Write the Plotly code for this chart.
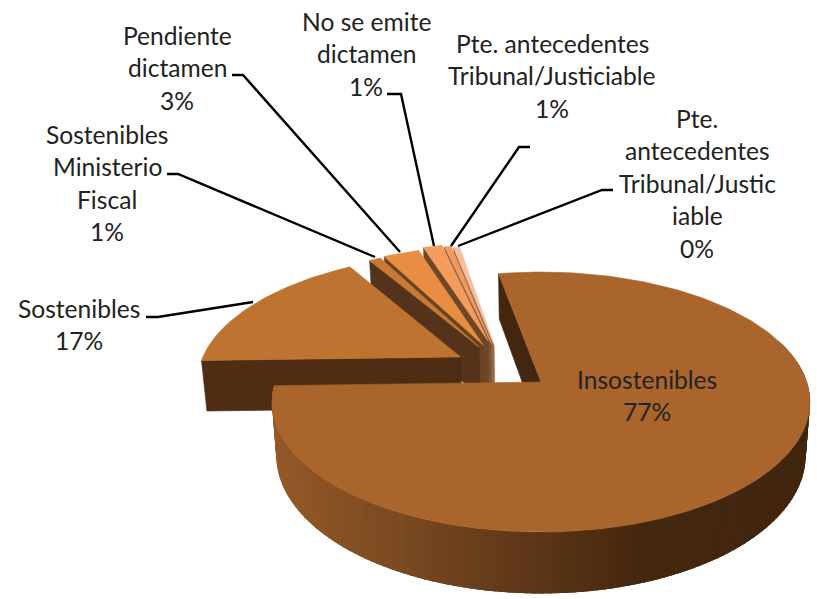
import math
import plotly.graph_objects as go

# ---- data ----
categories = ["Insostenibles", "Sostenibles", "Sostenibles Ministerio Fiscal", "Pendiente dictamen",
              "No se emite dictamen", "Pte. antecedentes Tribunal/Justiciable",
              "Pte. antecedentes Tribunal/Justiciable"]
values = [77.45, 16.67, 0.85, 2.64, 1.39, 0.50, 0.45]
label_lines = [
    ["Insostenibles"],
    ["Sostenibles"],
    ["Sostenibles", "Ministerio", "Fiscal"],
    ["Pendiente", "dictamen"],
    ["No se emite", "dictamen"],
    ["Pte. antecedentes", "Tribunal/Justiciable"],
    ["Pte.", "antecedentes", "Tribunal/Justic", "iable"],
]

# ---- styles ----
top_colors = ["#A9652B", "#BF7330", "#C87A35", "#E88D42", "#F49C5E", "#EE9A62", "#F5BFA0"]
wall_colors = ["#432610", "#4E2D14", "#55331A", "#6A4320", "#6E4726", "#7E5532", "#9A6A42"]
explode_u = [0.0, -0.312, -0.243, -0.228, -0.209, -0.197, -0.185]
explode_v = [0.0, -0.203, -0.288, -0.306, -0.340, -0.323, -0.306]
radius = [1.0, 1.0, 0.98, 0.98, 0.98, 0.98, 0.98]
label_x = [647, 79, 107, 177, 366, 552, 697]
label_y = [379, 308, 134, 35, 21, 43, 118]
leaders = [
    None,
    [(146, 317), (158, 317), (253, 302)],
    [(167, 174), (178, 174), (375, 257)],
    [(232, 75), (243, 75), (400, 252)],
    [(387, 94), (401, 94), (434, 246)],
    [(530, 147), (519, 147), (451, 246)],
    [(613, 190), (602, 190), (458, 246)],
]
FONT = "Lato"
FONT_SIZE = 24.6
LINE_H = 32.5
START = -10.6
CX, CY, A, B, K, DEPTH, CONVERGE = 541, 382, 265.8, 126.9, 0.154, 52, 0.016
GRAD = [(270, (0x96, 0x5A, 0x28)), (400, (0x7A, 0x4A, 0x21)), (530, (0x5E, 0x37, 0x18)),
        (640, (0x45, 0x28, 0x10)), (820, (0x40, 0x25, 0x0F))]


def proj(u, v, down=False):
    den = 1 - K * v
    x, y = CX + A * u / den, CY + B * v / den
    if down:
        x = CX + (x - CX) * (1 - CONVERGE)
        y += DEPTH / den
    return x, y


def rim(i, th, down=False):
    t = math.radians(th)
    return proj(explode_u[i] + radius[i] * math.sin(t), explode_v[i] - radius[i] * math.cos(t), down)


def apex(i, down=False):
    return proj(explode_u[i], explode_v[i], down)


def grad(x):
    for (x0, c0), (x1, c1) in zip(GRAD, GRAD[1:]):
        if x <= x1:
            f = max(0, (x - x0) / (x1 - x0))
            return "rgb(%d,%d,%d)" % tuple(a + (b - a) * f for a, b in zip(c0, c1))
    return "rgb(64,37,15)"


def poly(fig, pts, color, lw=0.6):
    fig.add_trace(go.Scatter(x=[p[0] for p in pts] + [pts[0][0]], y=[p[1] for p in pts] + [pts[0][1]],
                             mode="lines", fill="toself", fillcolor=color,
                             line=dict(color=color, width=lw), hoverinfo="skip", showlegend=False))


total = sum(values)
bounds = [START]
for val in values:
    bounds.append(bounds[-1] + val / total * 360)

fig = go.Figure()

# back to front: small slices, Sostenibles, then the main slice
for i in range(len(values) - 1, -1, -1):
    a, b = bounds[i], bounds[i + 1]
    # wall along the starting radial edge
    poly(fig, [apex(i), rim(i, a), rim(i, a, True), apex(i, True)], wall_colors[i])
    if i == 0:
        # outer rim wall with horizontal shading; strips overlap so no seams show
        th = 70.0
        step = 1.5
        while th < b:
            t2 = min(th + step * 2.5, b)
            tm = th + step / 2
            p = [rim(i, th), rim(i, t2), rim(i, t2, True), rim(i, th, True)]
            poly(fig, p, grad(rim(i, tm)[0]), lw=0)
            th += step
    n = max(4, int((b - a) / 1.5))
    arc = [rim(i, a + (b - a) * j / n) for j in range(n + 1)]
    poly(fig, [apex(i)] + arc, top_colors[i])

# leader lines
for pts in leaders:
    if pts:
        fig.add_trace(go.Scatter(x=[p[0] for p in pts], y=[p[1] for p in pts], mode="lines",
                                 line=dict(color="#000000", width=2.4), hoverinfo="skip", showlegend=False))

# labels, one text line at a time so the line pitch can match
for i, lines in enumerate(label_lines):
    pct = f"{values[i] / total * 100:.0f}%"
    for j, txt in enumerate(lines + [pct]):
        fig.add_annotation(x=label_x[i], y=label_y[i] + j * LINE_H, text=txt, showarrow=False,
                           xanchor="center", yanchor="middle",
                           font=dict(family=FONT, size=FONT_SIZE, color="#222222"))

fig.update_layout(width=817, height=599, margin=dict(l=0, r=0, t=0, b=0), paper_bgcolor="white",
                  plot_bgcolor="white", showlegend=False,
                  xaxis=dict(range=[0, 817], visible=False, fixedrange=True),
                  yaxis=dict(range=[599, 0], visible=False, fixedrange=True))
fig.write_html("out.html", config={"displayModeBar": False},
               post_script="document.body.style.margin='0';document.body.style.overflow='hidden';")
